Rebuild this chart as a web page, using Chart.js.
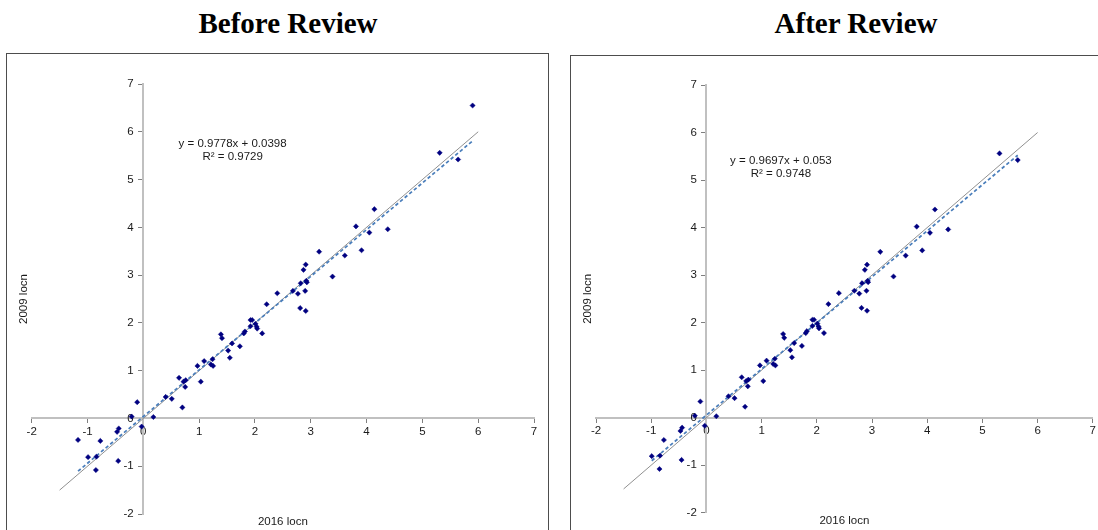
<!DOCTYPE html>
<html>
<head>
<meta charset="utf-8">
<script src="https://cdn.jsdelivr.net/npm/chart.js@4.4.1/dist/chart.umd.min.js"></script>
<style>
    html, body { margin: 0; padding: 0; overflow: hidden; background: #fff; }
    body { width: 1098px; height: 530px; position: relative; }
    .title { position: absolute; top: 9px; width: 300px; text-align: center;
             font: bold 29px "Liberation Serif", "Times New Roman", serif; line-height: 29px; color: #000; }
    .box { position: absolute; width: 543px; height: 600px; border: 1px solid #4d4d4d; box-sizing: border-box; }
    canvas { position: absolute; }
</style>
</head>
<body>
<div class="title" style="left:138px">Before Review</div>
<div class="title" style="left:706px">After Review</div>
<div class="box" style="left:6px; top:53px"></div>
<div class="box" style="left:570px; top:55px"></div>
<canvas id="beforeChart" width="541" height="476" style="left:7px; top:54px"></canvas>
<canvas id="afterChart" width="527" height="474" style="left:571px; top:56px"></canvas>
<script>
// 2016 locn (x) vs 2009 locn (y)
const beforeX = [-1.17, -0.99, -0.84, -0.85, -0.77, -0.47, -0.44, -0.45, -0.11, -0.21,
    -0.03, 0.18, 0.40, 0.51, 0.64, 0.70, 0.72, 0.76, 0.75, 0.97,
    1.03, 1.09, 1.21, 1.25, 1.24, 1.39, 1.41, 1.52, 1.55, 1.59,
    1.73, 1.80, 1.82, 1.92, 1.95, 1.92, 2.01, 2.03, 2.04, 2.13,
    2.21, 2.40, 2.68, 2.77, 2.82, 2.81, 2.91, 2.90, 2.92, 2.93,
    2.87, 2.91, 3.15, 3.39, 3.61, 3.81, 3.91, 4.05, 4.14, 4.38,
    5.31, 5.64, 5.90];
const beforeY = [-0.45, -0.81, -0.80, -1.08, -0.47, -0.28, -0.21, -0.89, 0.34, 0.04,
    -0.17, 0.03, 0.45, 0.41, 0.85, 0.23, 0.77, 0.80, 0.66, 1.10,
    0.77, 1.20, 1.13, 1.10, 1.24, 1.76, 1.68, 1.42, 1.27, 1.57,
    1.51, 1.78, 1.82, 2.06, 2.06, 1.93, 1.98, 1.92, 1.88, 1.78,
    2.39, 2.62, 2.67, 2.61, 2.83, 2.31, 2.25, 2.67, 2.88, 2.85,
    3.11, 3.22, 3.49, 2.97, 3.41, 4.02, 3.52, 3.89, 4.38, 3.96,
    5.56, 5.42, 6.55];

const afterX = [-0.99, -0.84, -0.85, -0.77, -0.47, -0.44, -0.45, -0.11, -0.21,
    -0.03, 0.18, 0.40, 0.51, 0.64, 0.70, 0.72, 0.76, 0.75, 0.97,
    1.03, 1.09, 1.21, 1.25, 1.24, 1.39, 1.41, 1.52, 1.55, 1.59,
    1.73, 1.80, 1.82, 1.92, 1.95, 1.92, 2.01, 2.03, 2.04, 2.13,
    2.21, 2.40, 2.68, 2.77, 2.82, 2.81, 2.91, 2.90, 2.92, 2.93,
    2.87, 2.91, 3.15, 3.39, 3.61, 3.81, 3.91, 4.05, 4.14, 4.38,
    5.31, 5.64];
const afterY = [-0.81, -0.80, -1.08, -0.47, -0.28, -0.21, -0.89, 0.34, 0.04,
    -0.17, 0.03, 0.45, 0.41, 0.85, 0.23, 0.77, 0.80, 0.66, 1.10,
    0.77, 1.20, 1.13, 1.10, 1.24, 1.76, 1.68, 1.42, 1.27, 1.57,
    1.51, 1.78, 1.82, 2.06, 2.06, 1.93, 1.98, 1.92, 1.88, 1.78,
    2.39, 2.62, 2.67, 2.61, 2.83, 2.31, 2.25, 2.67, 2.88, 2.85,
    3.11, 3.22, 3.49, 2.97, 3.41, 4.02, 3.52, 3.89, 4.38, 3.96,
    5.56, 5.42];

// trendline slope / intercept as printed on each chart
const beforeTrend = [0.9778, 0.0398];
const afterTrend = [0.9697, 0.053];
const beforeR2 = '0.9729';
const afterR2 = '0.9748';

const tickRange = [-2, 7];
const identitySpan = [-1.5, 6];

const textPlugin = {
    id: 'panelText',
    afterDraw(chart, args, opts) {
        const { ctx, chartArea, scales } = chart;
        ctx.save();
        ctx.fillStyle = '#1a1a1a';
        ctx.font = '11.5px "Liberation Sans", Arial, sans-serif';
        ctx.textAlign = 'center';
        ctx.textBaseline = 'middle';
        const ex = scales.x.getPixelForValue(opts.at[0]);
        const ey = scales.y.getPixelForValue(opts.at[1]);
        ctx.fillText(opts.equation, ex, ey);
        ctx.fillText(opts.r2, ex, ey + 13);
        ctx.fillText('2016 locn', (chartArea.left + chartArea.right) / 2, chartArea.bottom + 8);
        ctx.translate(chartArea.left - 8, (chartArea.top + chartArea.bottom) / 2);
        ctx.rotate(-Math.PI / 2);
        ctx.fillText('2009 locn', 0, 0);
        ctx.restore();
    }
};

function makeChart(id, xs, ys, trend, r2, padding, eqAt) {
    const points = xs.map((x, i) => ({ x: x, y: ys[i] }));
    const lo = Math.min(...xs), hi = Math.max(...xs);
    const trendLine = [lo, hi].map(x => ({ x: x, y: trend[0] * x + trend[1] }));
    const identity = identitySpan.map(v => ({ x: v, y: v }));
    const sign = trend[1] < 0 ? ' - ' : ' + ';

    const axis = (pos) => {
        const isX = pos.y !== undefined;
        return {
            type: 'linear',
            position: pos,
            min: tickRange[0],
            max: tickRange[1],
            ticks: {
                stepSize: 1,
                padding: 2,
                color: '#1a1a1a',
                font: { family: '"Liberation Sans", Arial, sans-serif', size: 11.5 },
                // centred y axis puts labels right on the line, pad them off it
                callback: (v) => isX ? String(v) : v + '   '
            },
            grid: { drawOnChartArea: false, tickLength: 4, tickColor: '#7f7f7f', tickWidth: 1 },
            border: { color: '#c0c0c0', width: 2 },
            afterFit: (s) => { if (isX) s.height = 0; else s.width = 0; }
        };
    };

    new Chart(document.getElementById(id).getContext('2d'), {
        type: 'scatter',
        data: {
            datasets: [
                {
                    data: points,
                    pointStyle: 'rectRot',
                    pointRadius: 2.6,
                    pointBorderWidth: 0.5,
                    backgroundColor: '#000080',
                    borderColor: '#000080',
                    order: 0
                },
                {
                    data: trendLine,
                    showLine: true,
                    pointRadius: 0,
                    borderColor: '#4a7ebb',
                    borderWidth: 1.75,
                    borderDash: [3.5, 2.5],
                    order: 1
                },
                {
                    data: identity,
                    showLine: true,
                    pointRadius: 0,
                    borderColor: '#909090',
                    borderWidth: 1,
                    order: 2
                }
            ]
        },
        options: {
            responsive: false,
            animation: false,
            layout: { padding: padding },
            plugins: {
                legend: { display: false },
                tooltip: { enabled: false },
                panelText: {
                    at: eqAt,
                    equation: 'y = ' + trend[0] + 'x' + sign + Math.abs(trend[1]),
                    r2: 'R\u00b2 = ' + r2
                }
            },
            scales: {
                x: axis({ y: 0 }),
                y: axis({ x: 0 })
            }
        },
        plugins: [textPlugin]
    });
}

makeChart('beforeChart', beforeX, beforeY, beforeTrend, beforeR2,
    { left: 24.7, right: 14, top: 30, bottom: 16 }, [1.6, 5.74]);
makeChart('afterChart', afterX, afterY, afterTrend, afterR2,
    { left: 25, right: 4, top: 29, bottom: 17.3 }, [1.35, 5.41]);
</script>
</body>
</html>
